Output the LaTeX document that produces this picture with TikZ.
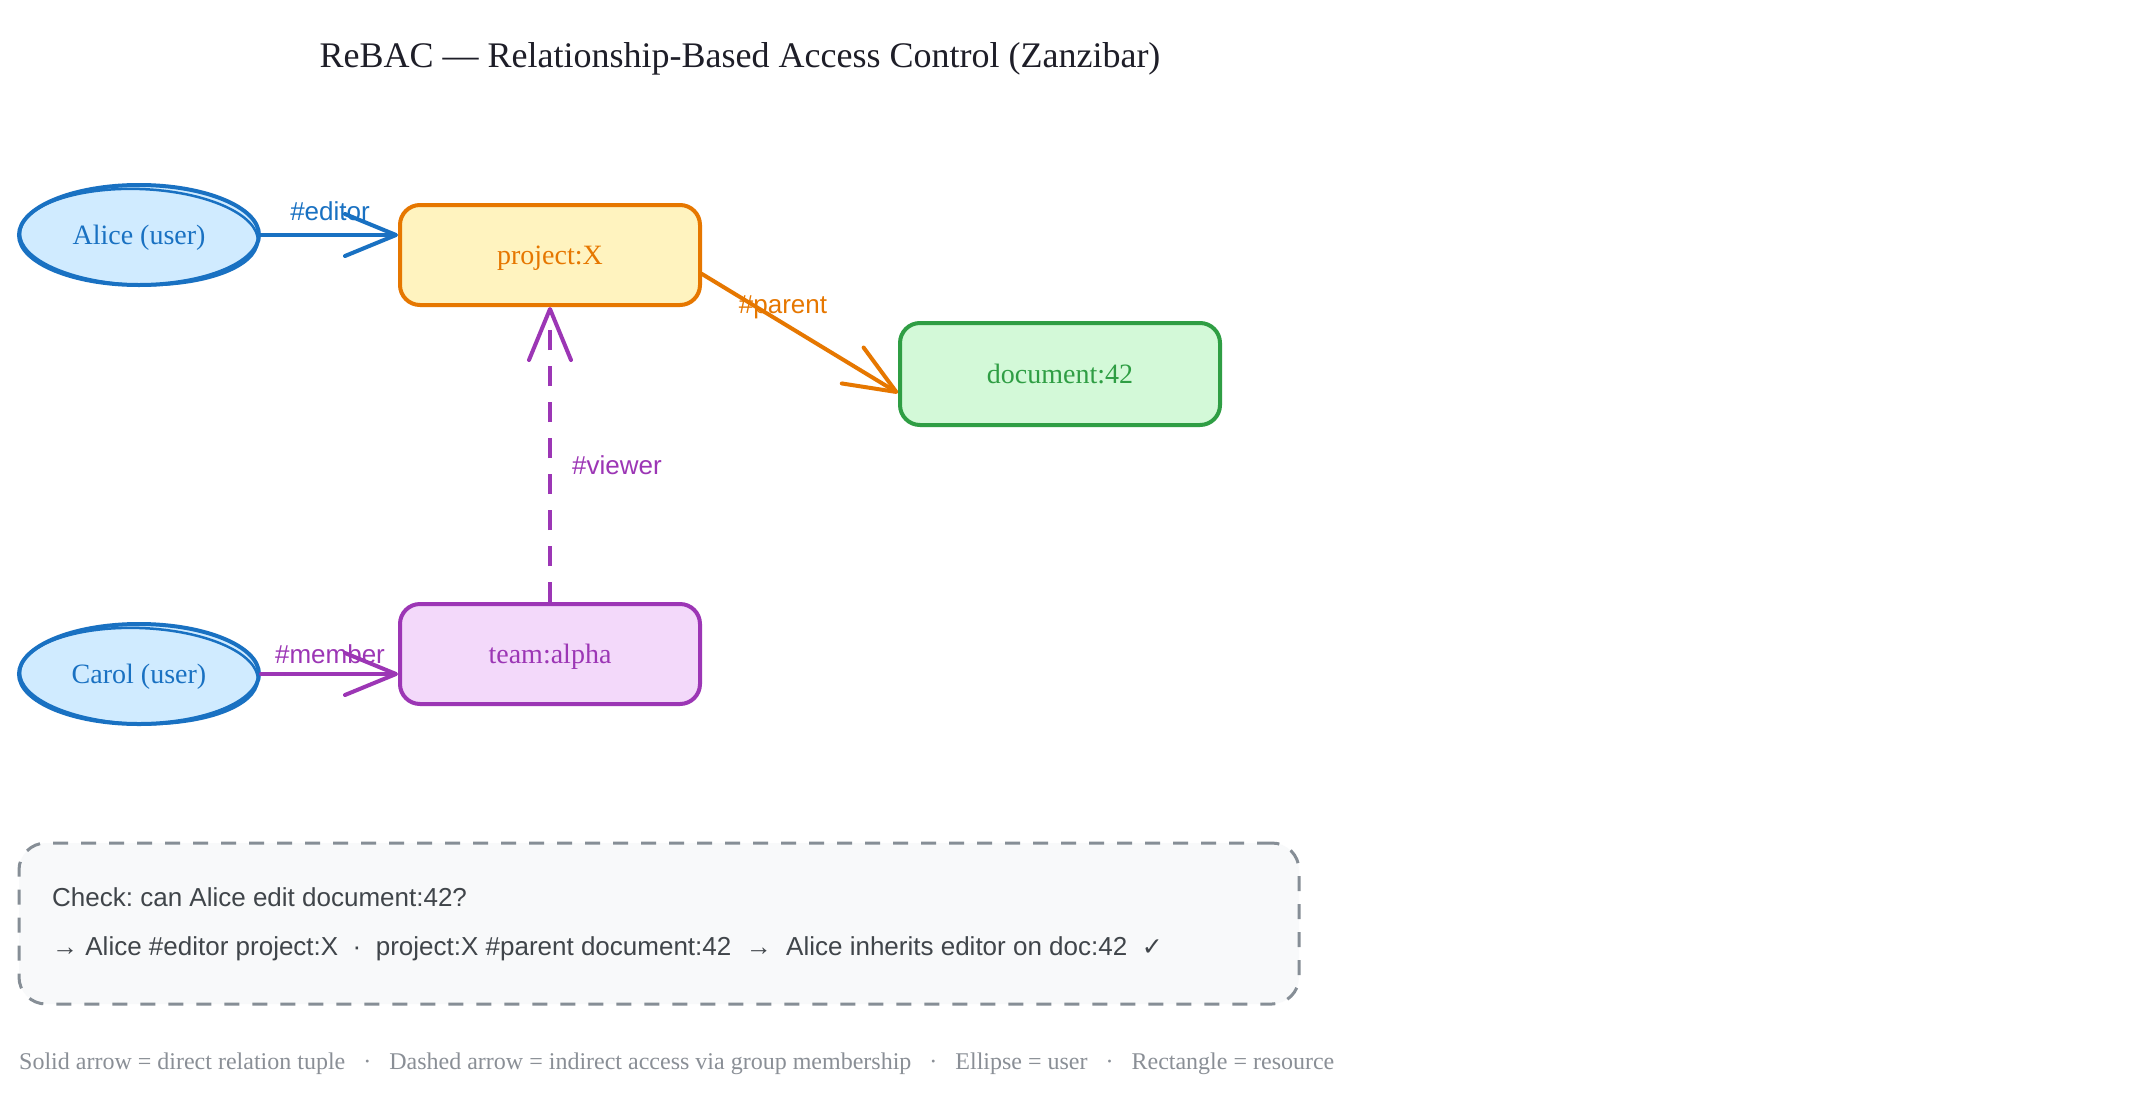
\documentclass[tikz,border=0pt]{standalone}
\usepackage{fontspec}
\setmainfont{Liberation Serif}
\setsansfont{Liberation Sans}
\newfontfamily\symfont{DejaVu Sans}
\usetikzlibrary{arrows.meta,shapes.geometric,calc}
\frenchspacing

\definecolor{bluestroke}{HTML}{1971C2}
\definecolor{bluefill}{HTML}{D0EBFF}
\definecolor{orstroke}{HTML}{E67700}
\definecolor{orfill}{HTML}{FFF3BF}
\definecolor{grstroke}{HTML}{2F9E44}
\definecolor{grfill}{HTML}{D3F9D8}
\definecolor{pustroke}{HTML}{9C36B5}
\definecolor{pufill}{HTML}{F3D9FA}
\definecolor{boxstroke}{HTML}{868E96}
\definecolor{boxfill}{HTML}{F8F9FA}
\definecolor{boxtext}{HTML}{40454A}
\definecolor{foottext}{HTML}{8A8F96}
\definecolor{titletext}{HTML}{1E1E28}

\tikzset{
  userell/.style={ellipse, draw=bluestroke, fill=bluefill, line width=4pt,
    minimum width=240pt, minimum height=100pt, inner sep=0pt,
    text height=22pt, text depth=4pt,
    text=bluestroke, font=\fontsize{28}{32}\selectfont},
  sketchline/.style={draw=#1, line width=2.5pt},
  resbox/.style={rectangle, rounded corners=20pt, line width=4pt,
    minimum width=300pt, minimum height=100pt, inner sep=0pt,
    text height=22pt, text depth=4pt,
    font=\fontsize{28}{32}\selectfont},
  edgelabel/.style={font=\sffamily\fontsize{26}{30}\selectfont, inner sep=0pt},
  relarrow/.style={line width=4pt, draw=#1, line cap=round,
    -{Straight Barb[length=51pt,width=42pt,round]}},
  viewarrow/.style={line width=4pt, draw=#1, dash pattern=on 20pt off 16pt,
    -{Straight Barb[length=51pt,width=42pt,round]}},
  checkbox/.style={rectangle, rounded corners=27pt, draw=boxstroke, fill=boxfill,
    line width=3pt, dash pattern=on 15pt off 13pt,
    minimum width=1280pt, minimum height=161pt},
  checktext/.style={font=\sffamily\fontsize{26}{30}\selectfont, text=boxtext,
    anchor=west, inner sep=0pt},
}

\begin{document}
\begin{tikzpicture}[x=1pt,y=-1pt]
\useasboundingbox[fill=white] (0,0) rectangle (2140,1100);

% title
\node[font=\fontsize{36}{42}\selectfont, text=titletext] (title) at (740,59)
  {ReBAC — Relationship-Based Access Control (Zanzibar)};

% nodes
\node[userell] (alice) at (139,235) {Alice (user)};
\node[userell] (carol) at (139,674) {Carol (user)};
\draw[sketchline=bluestroke, rotate around={-2:(alice.center)}] ([yshift=-2pt]alice.center) ellipse (119pt and 48pt);
\draw[sketchline=bluestroke, rotate around={-2:(carol.center)}] ([yshift=-2pt]carol.center) ellipse (119pt and 48pt);
\node[resbox, draw=orstroke, fill=orfill, text=orstroke] (project) at (550,255) {project:X};
\node[resbox, draw=grstroke, fill=grfill, text=grstroke,
      minimum width=320pt, minimum height=102pt] (doc) at (1060,374) {document:42};
\node[resbox, draw=pustroke, fill=pufill, text=pustroke] (team) at (550,654) {team:alpha};

% connectors
\draw[relarrow=bluestroke] (alice.east) -- (alice.east -| project.west);
\draw[relarrow=pustroke] (carol.east) -- (carol.east -| team.west);
\draw[relarrow=orstroke] ([yshift=-19pt]project.east) -- ([yshift=-19pt]doc.west);
\draw[viewarrow=pustroke] (team.north) -- (project.south);

% connector labels
\node[edgelabel, text=bluestroke] (leditor) at (330,211) {\#editor};
\node[edgelabel, text=pustroke] (lmember) at (330,654) {\#member};
\node[edgelabel, text=orstroke] (lparent) at (783,307) {\#parent};
\node[edgelabel, text=pustroke, anchor=west] (lviewer) at (572,465) {\#viewer};

% check box
\node[checkbox] (check) at (659,923.5) {};
\node[checktext] (check1) at (52,897) {Check: can Alice edit document:42?};
\node[checktext] (check2) at (52,949)
  {→ Alice \#editor project:X\ \ ·\ \ project:X \#parent document:42\ \ →\ \ Alice inherits editor on doc:42\ \ {\symfont\fontsize{25}{28}\selectfont ✓}};

% footer
\node[font=\fontsize{24}{28}\selectfont, text=foottext, anchor=west, inner sep=0pt] (footer) at (19,1064)
  {Solid arrow = direct relation tuple\ \ \ ·\ \ \ Dashed arrow = indirect access via group membership\ \ \ ·\ \ \ Ellipse = user\ \ \ ·\ \ \ Rectangle = resource};
\end{tikzpicture}
\end{document}
